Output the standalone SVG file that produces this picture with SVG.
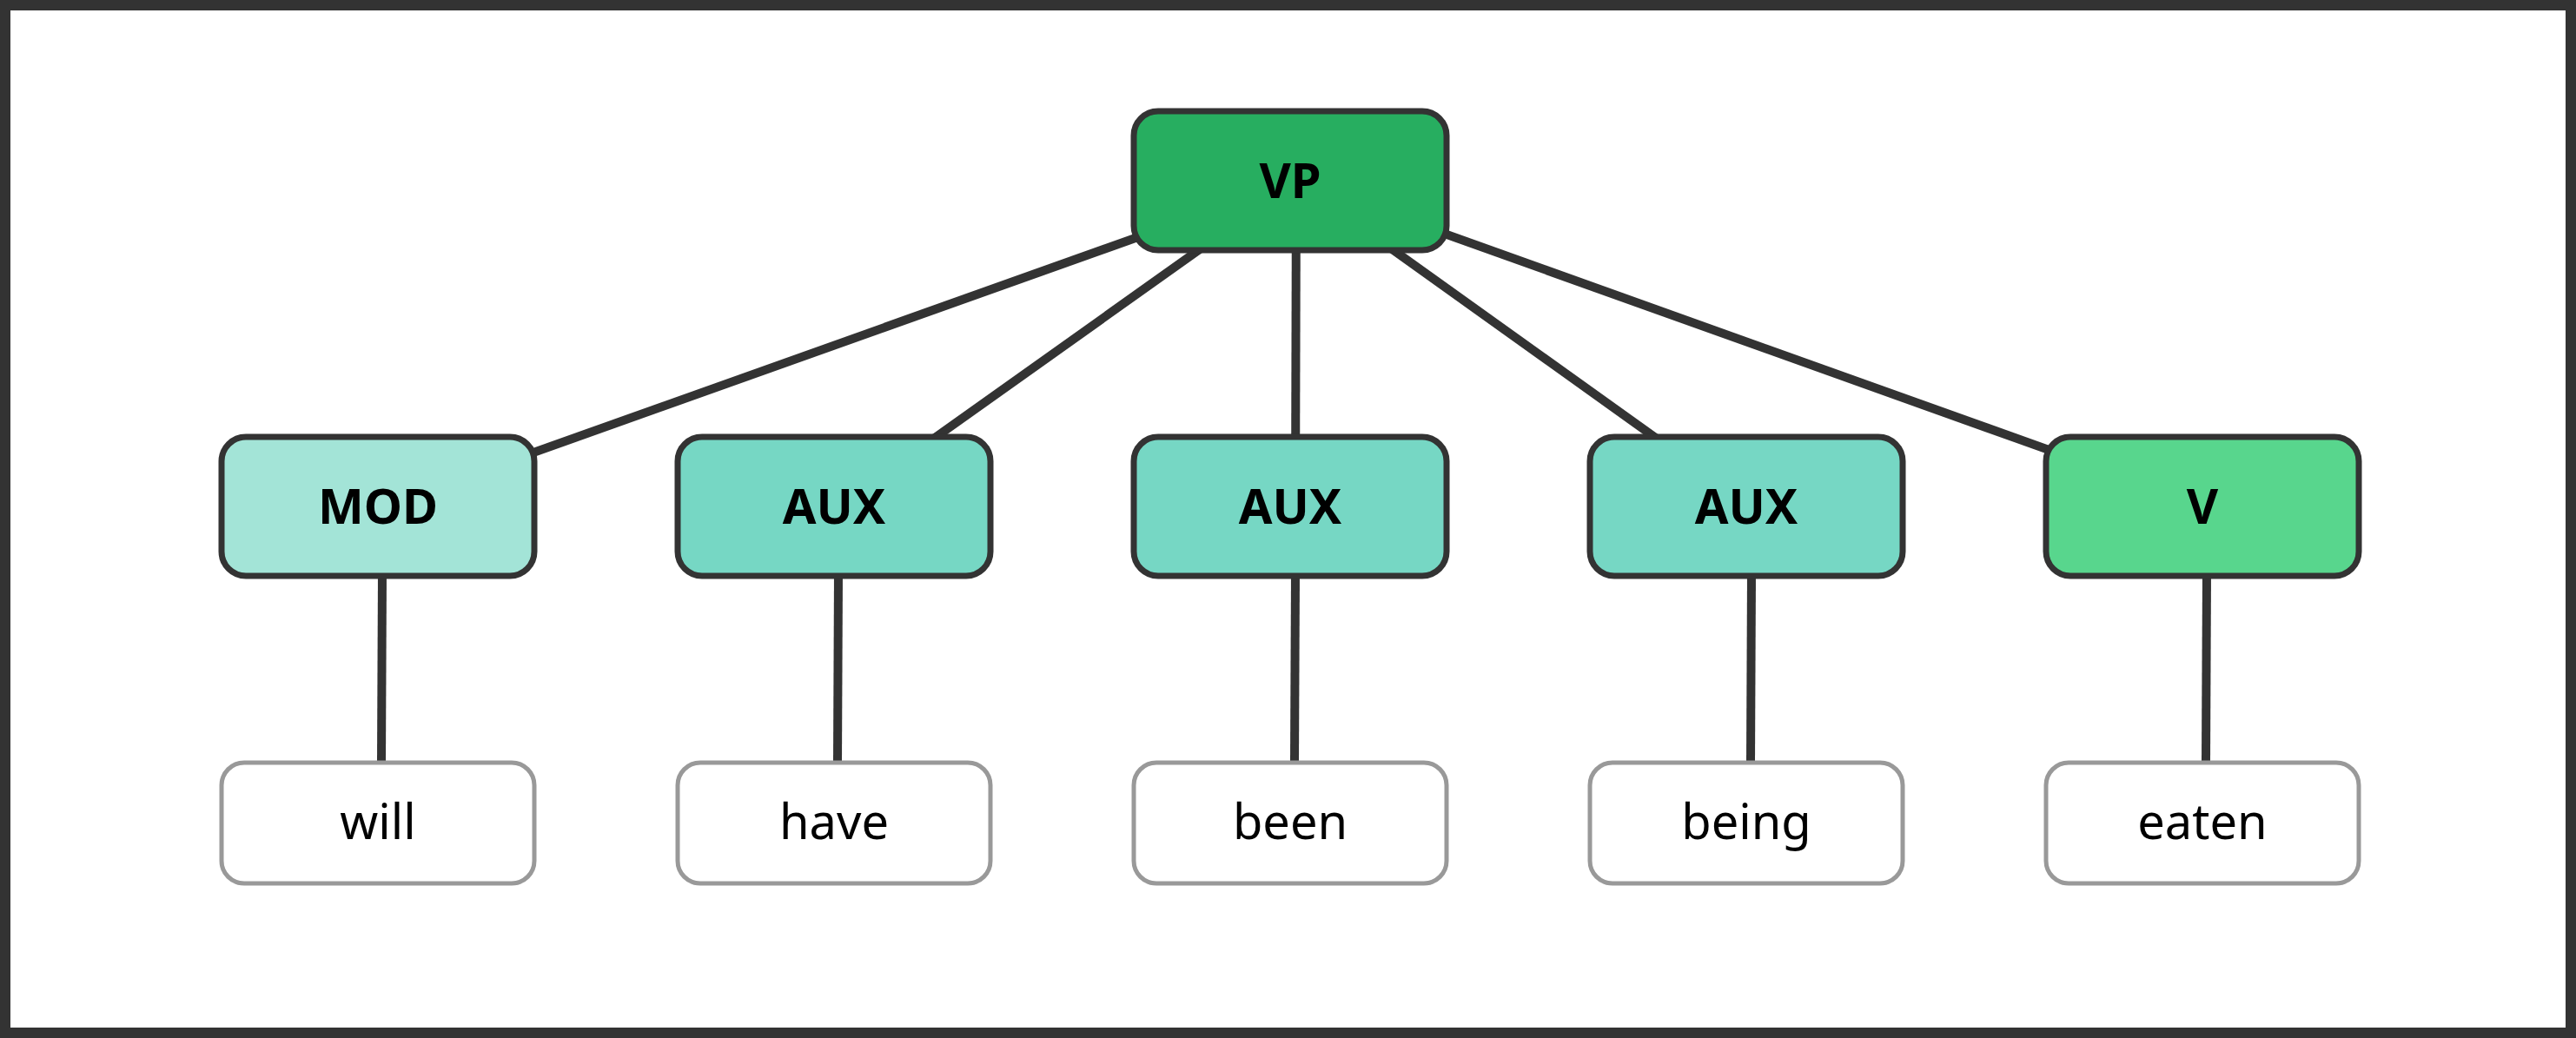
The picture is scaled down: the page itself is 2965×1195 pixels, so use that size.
<svg xmlns="http://www.w3.org/2000/svg" width="2965" height="1195" viewBox="0 0 2965 1195">
<style>
.n{stroke:#333;stroke-width:7}
.leaf{fill:#fff;stroke:#999;stroke-width:5}
.e{stroke:#333;stroke-width:10;fill:none}
.b{font-family:"Noto Sans","DejaVu Sans",sans-serif;font-weight:bold;font-size:56px;text-anchor:middle;fill:#000}
.w{font-family:"Noto Sans","DejaVu Sans",sans-serif;font-size:56px;text-anchor:middle;fill:#000}
</style>
<rect x="0" y="0" width="2965" height="1195" fill="#fff"/>
<rect x="6" y="6" width="2953" height="1183" fill="none" stroke="#333" stroke-width="12"/>
<g id="edges">
<line class="e" x1="1492" y1="208" x2="440" y2="583"/>
<line class="e" x1="1492" y1="208" x2="965" y2="583"/>
<line class="e" x1="1492" y1="208" x2="1491" y2="583"/>
<line class="e" x1="1492" y1="208" x2="2016" y2="583"/>
<line class="e" x1="1492" y1="208" x2="2540" y2="583"/>
<line class="e" x1="440" y1="660" x2="439" y2="877"/>
<line class="e" x1="965" y1="660" x2="964" y2="877"/>
<line class="e" x1="1491" y1="660" x2="1490" y2="877"/>
<line class="e" x1="2016" y1="660" x2="2015" y2="877"/>
<line class="e" x1="2540" y1="660" x2="2539" y2="877"/>
</g>
<g id="VP"><rect class="n" x="1305" y="128" width="360" height="160" rx="28" fill="#27ae60"/><text class="b" x="1485" y="228">VP</text></g>
<g id="MOD"><rect class="n" x="255" y="503" width="360" height="160" rx="28" fill="#a3e4d7"/><text class="b" x="435" y="603">MOD</text></g>
<g id="AUX1"><rect class="n" x="780" y="503" width="360" height="160" rx="28" fill="#76d7c4"/><text class="b" x="960" y="603">AUX</text></g>
<g id="AUX2"><rect class="n" x="1305" y="503" width="360" height="160" rx="28" fill="#76d7c4"/><text class="b" x="1485" y="603">AUX</text></g>
<g id="AUX3"><rect class="n" x="1830" y="503" width="360" height="160" rx="28" fill="#76d7c4"/><text class="b" x="2010" y="603">AUX</text></g>
<g id="V"><rect class="n" x="2355" y="503" width="360" height="160" rx="28" fill="#58d68d"/><text class="b" x="2535" y="603">V</text></g>
<g id="will"><rect class="leaf" x="255" y="878" width="360" height="139" rx="26"/><text class="w" x="435" y="966">will</text></g>
<g id="have"><rect class="leaf" x="780" y="878" width="360" height="139" rx="26"/><text class="w" x="960" y="966">have</text></g>
<g id="been"><rect class="leaf" x="1305" y="878" width="360" height="139" rx="26"/><text class="w" x="1485" y="966">been</text></g>
<g id="being"><rect class="leaf" x="1830" y="878" width="360" height="139" rx="26"/><text class="w" x="2010" y="966">being</text></g>
<g id="eaten"><rect class="leaf" x="2355" y="878" width="360" height="139" rx="26"/><text class="w" x="2535" y="966">eaten</text></g>
</svg>
